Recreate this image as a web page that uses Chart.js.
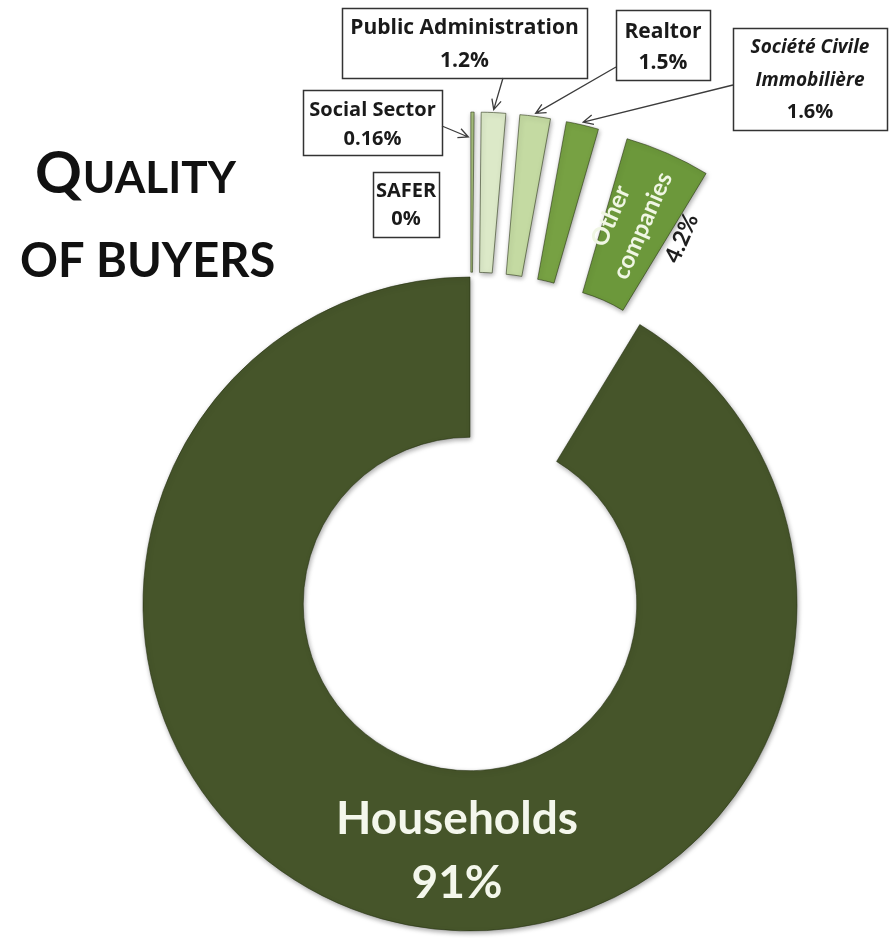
<!DOCTYPE html>
<html>
<head>
<meta charset="utf-8">
<script src="https://cdn.jsdelivr.net/npm/chart.js@4.4.1/dist/chart.umd.min.js"></script>
<style>
  html, body { margin: 0; padding: 0; background: #ffffff; }
  #wrap { width: 896px; height: 938px; position: relative; }
  canvas { display: block; }
</style>
</head>
<body>
<div id="wrap"><canvas id="c" width="896" height="938"></canvas></div>
<script>
// ---------------- DATA ----------------
const categories = ['SAFER', 'Social Sector', 'Public Administration', 'Realtor', 'Société Civile Immobilière', 'Other companies', 'Households'];
const shares = [0, 0.16, 1.2, 1.5, 1.6, 4.2, 91];
const percentLabels = shares.map(v => v + '%');
const calloutLines = [['SAFER'], ['Social Sector'], ['Public Administration'], ['Realtor'], ['Société Civile', 'Immobilière']];
const insideLines = { 5: ['Other', 'companies'], 6: ['Households'] };
const titleMain = ['Q', 'UALITY'];
const titleSub = 'OF BUYERS';

// ---------------- STYLE / LAYOUT ----------------
const sliceColors = ['#8fae5c', '#a9c27f', '#dce9c8', '#c4daa2', '#77a143', '#6c983b', '#46552a'];
const explodeDist = [165, 165, 165, 165, 165, 165, 0];
const FONT = 'Lato, "Open Sans", "Liberation Sans", sans-serif';
const BOXFONT = '"Open Sans", Lato, "Liberation Sans", sans-serif';

const callouts = [
  { idx: 0, box: [373, 172, 439, 237], lineY: [191, 219], size: 20 },
  { idx: 1, box: [303, 90, 442, 155], lineY: [110, 139], size: 20, from: [442, 126], tipR: -25, tipLat: -4 },
  { idx: 2, box: [342, 8, 587, 78], lineY: [28, 61], size: 21, from: [503, 78], tipR: 3, tipLat: 0 },
  { idx: 3, box: [616, 10, 710, 80], lineY: [32, 63], size: 21, from: [616, 67], tipR: 3, tipLat: 0 },
  { idx: 4, box: [733, 28, 887, 130], lineY: [48, 81, 112], size: 20, italic: true, from: [733, 85], tipR: 3, tipLat: 0 }
];

function drawArrow(ctx, x1, y1, x2, y2) {
  const a = Math.atan2(y2 - y1, x2 - x1), L = 11, w = Math.PI / 7;
  ctx.beginPath();
  ctx.moveTo(x1, y1);
  ctx.lineTo(x2, y2);
  ctx.moveTo(x2 - L * Math.cos(a - w), y2 - L * Math.sin(a - w));
  ctx.lineTo(x2, y2);
  ctx.lineTo(x2 - L * Math.cos(a + w), y2 - L * Math.sin(a + w));
  ctx.stroke();
}

const buyerPlugin = {
  id: 'buyerPlugin',
  beforeDatasetDraw(chart, args) {
    const ctx = chart.ctx;
    args.meta.data.forEach((arc, i) => {
      const mid = (arc.startAngle + arc.endAngle) / 2;
      const d = explodeDist[i];
      ctx.save();
      ctx.shadowColor = 'rgba(0,0,0,0.35)';
      ctx.shadowBlur = 5;
      ctx.shadowOffsetX = 1;
      ctx.shadowOffsetY = 2;
      ctx.translate(Math.cos(mid) * d, Math.sin(mid) * d);
      arc.draw(ctx);
      ctx.restore();
    });
    return false;
  },
  afterDraw(chart) {
    const ctx = chart.ctx;
    const meta = chart.getDatasetMeta(0);
    const arcs = meta.data;

    // Households label
    const h = arcs[6];
    const cx = h.x, cy = h.y;
    const ringMid = (h.innerRadius + h.outerRadius) / 2;
    ctx.save();
    ctx.fillStyle = '#f4f7ec';
    ctx.textAlign = 'center';
    ctx.textBaseline = 'middle';
    ctx.font = 'bold 46px ' + FONT;
    ctx.fillText(insideLines[6][0], cx - 13, cy + ringMid - 32);
    ctx.fillText(percentLabels[6], cx - 13, cy + ringMid + 32);
    ctx.restore();

    // Other companies label (rotated along the slice)
    const o = arcs[5];
    const om = (o.startAngle + o.endAngle) / 2;
    const oR = (o.innerRadius + o.outerRadius) / 2 + explodeDist[5];
    ctx.save();
    ctx.translate(o.x + Math.cos(om) * oR, o.y + Math.sin(om) * oR);
    ctx.rotate(om);
    ctx.textAlign = 'center';
    ctx.textBaseline = 'middle';
    ctx.fillStyle = '#f0f6e4';
    ctx.font = 'bold 24px ' + FONT;
    ctx.fillText(insideLines[5][0], 0, -27);
    ctx.fillText(insideLines[5][1], 4, 6);
    ctx.fillStyle = '#1e1e1e';
    ctx.font = 'bold 23px ' + FONT;
    ctx.fillText(percentLabels[5], 8, 47);
    ctx.restore();

    // Callout boxes with arrows
    callouts.forEach(c => {
      const [x1, y1, x2, y2] = c.box;
      ctx.save();
      ctx.fillStyle = '#ffffff';
      ctx.strokeStyle = '#333333';
      ctx.lineWidth = 1.5;
      ctx.fillRect(x1, y1, x2 - x1, y2 - y1);
      ctx.strokeRect(x1 + 0.5, y1 + 0.5, x2 - x1, y2 - y1);
      ctx.fillStyle = '#1a1a1a';
      ctx.textAlign = 'center';
      ctx.textBaseline = 'middle';
      const lines = calloutLines[c.idx].concat([percentLabels[c.idx]]);
      lines.forEach((t, k) => {
        const isPct = k === lines.length - 1;
        const it = c.italic && !isPct;
        ctx.font = (it ? 'italic ' : '') + 'bold ' + (it ? c.size - 1 : c.size) + 'px ' + BOXFONT;
        ctx.fillText(t, (x1 + x2) / 2, c.lineY[k]);
      });
      if (c.from) {
        const a = arcs[c.idx];
        const m = (a.startAngle + a.endAngle) / 2;
        const r = a.outerRadius + explodeDist[c.idx] + c.tipR;
        const tx = a.x + Math.cos(m) * r - Math.sin(m) * c.tipLat;
        const ty = a.y + Math.sin(m) * r + Math.cos(m) * c.tipLat;
        ctx.strokeStyle = '#3c3c3c';
        ctx.lineWidth = 1.3;
        drawArrow(ctx, c.from[0], c.from[1], tx, ty);
      }
      ctx.restore();
    });

    // Title
    ctx.save();
    ctx.fillStyle = '#111111';
    ctx.textAlign = 'left';
    ctx.textBaseline = 'alphabetic';
    ctx.font = 'bold 58px ' + FONT;
    ctx.fillText(titleMain[0], 35, 193);
    const qw = ctx.measureText(titleMain[0]).width;
    ctx.font = 'bold 44px ' + FONT;
    ctx.fillText(titleMain[1], 35 + qw + 1, 193);
    ctx.font = 'bold 47px ' + FONT;
    ctx.fillText(titleSub, 20, 277);
    ctx.restore();
  }
};

new Chart(document.getElementById('c'), {
  type: 'doughnut',
  data: {
    labels: categories,
    datasets: [{
      data: shares,
      backgroundColor: sliceColors,
      borderColor: 'rgba(35,45,15,0.55)',
      borderWidth: 1
    }]
  },
  options: {
    responsive: false,
    animation: false,
    events: [],
    radius: 327,
    cutout: '51%',
    rotation: 0,
    layout: { padding: { left: 44, right: 0, top: 270, bottom: 0 } },
    plugins: { legend: { display: false }, tooltip: { enabled: false } }
  },
  plugins: [buyerPlugin]
});
</script>
</body>
</html>
